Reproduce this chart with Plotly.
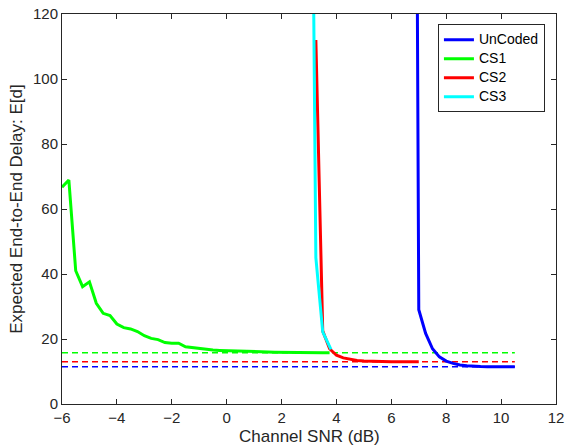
import plotly.graph_objects as go

# ---- data ----
uncoded_x = [6.75, 7.0, 7.25, 7.5, 7.75, 8.0, 8.25, 8.5, 8.75, 9.0, 9.25, 9.5, 9.75, 10.0, 10.25, 10.5]
uncoded_y = [480, 29.0, 21.7, 17.0, 14.5, 13.2, 12.5, 12.0, 11.8, 11.6, 11.55, 11.5, 11.5, 11.5, 11.5, 11.5]

cs1_x = [-6.0, -5.75, -5.5, -5.25, -5.0, -4.75, -4.5, -4.25, -4.0, -3.75, -3.5, -3.25, -3.0, -2.75,
         -2.5, -2.25, -2.0, -1.75, -1.5, -1.25, -1.0, -0.75, -0.5, -0.25, 0.0, 0.25, 0.5, 0.75, 1.0,
         1.25, 1.5, 1.75, 2.0, 2.25, 2.5, 2.75, 3.0, 3.25, 3.5, 3.75]
cs1_y = [66.7, 68.9, 41.0, 36.1, 37.6, 31.0, 27.9, 27.2, 24.6, 23.5, 23.1, 22.3, 21.0, 20.2,
         19.8, 18.9, 18.7, 18.7, 17.6, 17.3, 17.0, 16.8, 16.6, 16.5, 16.4, 16.3, 16.2, 16.1, 16.1,
         16.0, 16.0, 15.95, 15.9, 15.9, 15.85, 15.85, 15.8, 15.8, 15.8, 15.8]

cs2_x = [3.25, 3.5, 3.75, 4.0, 4.25, 4.5, 4.75, 5.0, 5.25, 5.5, 5.75, 6.0, 6.25, 6.5, 6.75, 7.0]
cs2_y = [112.0, 22.5, 17.0, 15.0, 14.2, 13.7, 13.4, 13.2, 13.1, 13.05, 13.0, 13.0, 13.0, 13.0, 13.0, 13.0]

cs3_x = [3.0, 3.25, 3.5, 3.8]
cs3_y = [290, 45.0, 22.2, 16.8]

limit_x = [-6.0, 10.5]
limit_uncoded = 11.5
limit_cs1 = 15.8
limit_cs2 = 13.0

series_names = ["UnCoded", "CS1", "CS2", "CS3"]
colors = {"UnCoded": "#0000ff", "CS1": "#00ff00", "CS2": "#ff0000", "CS3": "#00ffff"}

x_title = "Channel SNR (dB)"
y_title = "Expected End-to-End Delay: E[d]"

FONT = "Liberation Sans, Arial, sans-serif"

fig = go.Figure()

# dashed asymptotes (drawn first, behind)
for val, name in [(limit_cs1, "CS1"), (limit_cs2, "CS2"), (limit_uncoded, "UnCoded")]:
    fig.add_trace(go.Scatter(x=limit_x, y=[val, val], mode="lines", showlegend=False,
                             line=dict(color=colors[name], width=1.5, dash="6px,4px"),
                             hoverinfo="skip"))

for name, xs, ys in zip(series_names, [uncoded_x, cs1_x, cs2_x, cs3_x],
                        [uncoded_y, cs1_y, cs2_y, cs3_y]):
    fig.add_trace(go.Scatter(x=xs, y=ys, mode="lines",
                             name=f"<span style='font-size:14px'>{name}</span>",
                             line=dict(color=colors[name], width=3)))

axis_common = dict(showline=True, linecolor="#262626", linewidth=1, mirror="ticks",
                   ticks="inside", ticklen=5, tickcolor="#262626", showgrid=False, zeroline=False,
                   automargin=False,
                   tickfont=dict(family=FONT, size=15, color="#262626"))

fig.update_layout(
    width=570, height=447,
    margin=dict(l=62, r=14, t=14, b=43),
    paper_bgcolor="white", plot_bgcolor="white",
    font=dict(family=FONT, color="#262626"),
    xaxis=dict(range=[-6, 12], tickmode="array", tickvals=list(range(-6, 13, 2)),
               **axis_common),
    yaxis=dict(range=[0, 120], tickmode="array", tickvals=list(range(0, 121, 20)),
               title=dict(text=y_title, font=dict(family=FONT, size=17), standoff=6),
               **axis_common),
    legend=dict(x=0.761, y=0.974, xanchor="left", yanchor="top",
                bordercolor="#262626", borderwidth=1, bgcolor="white",
                font=dict(family=FONT, size=12, color="#000000"), tracegroupgap=0,
                itemwidth=30),
    showlegend=True,
)

fig.add_annotation(text=x_title, xref="paper", yref="paper", x=0.5, y=0,
                   xanchor="center", yanchor="top", yshift=-21, showarrow=False,
                   font=dict(family=FONT, size=17, color="#262626"))

fig.write_html("out.html", config={"displayModeBar": False},
               post_script="document.body.style.margin='0';document.body.style.overflow='hidden';")
